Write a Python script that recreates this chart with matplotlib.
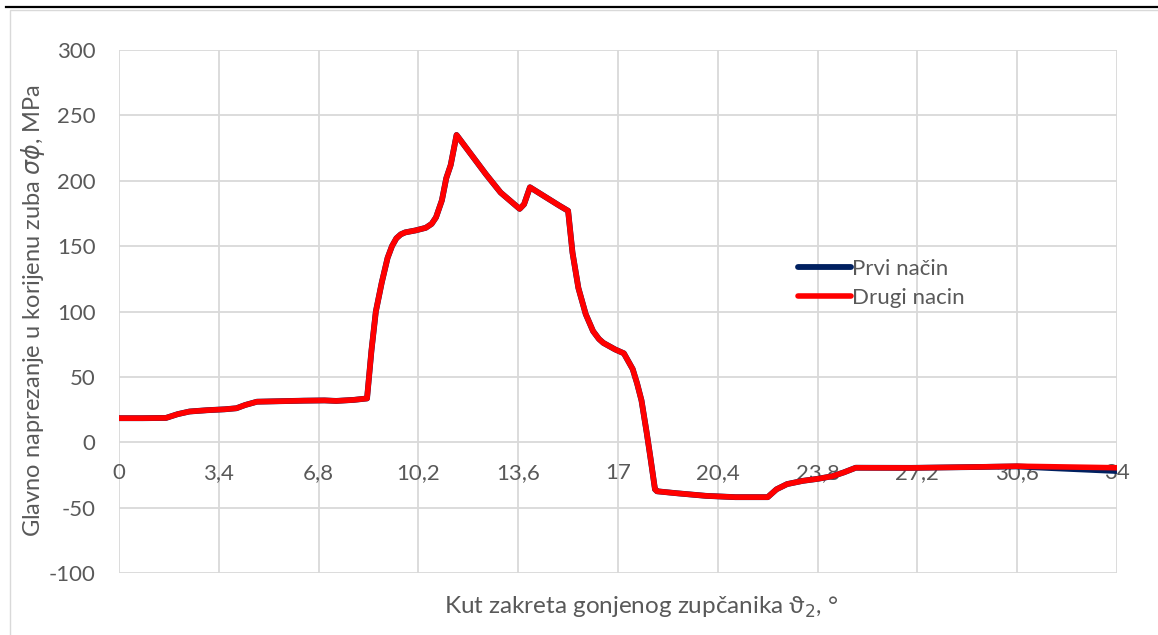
import matplotlib
matplotlib.use("Agg")
import matplotlib.pyplot as plt
from matplotlib.patches import Rectangle
from matplotlib.lines import Line2D

# ---- data ----
theta = [0, 0.8, 1.6, 2.0, 2.4, 3.0, 3.6, 4.0, 4.3, 4.7, 5.5, 6.3, 7.0, 7.4, 8.0, 8.45,
         8.6, 8.75, 8.95, 9.15, 9.3, 9.45, 9.6, 9.75, 10.1, 10.45, 10.65, 10.8, 11.0, 11.15, 11.3, 11.5,
         12.0, 12.5, 13.0, 13.65, 13.8, 14.0, 14.5, 15.0, 15.3, 15.45, 15.65, 15.9, 16.15,
         16.35, 16.5, 16.9, 17.2, 17.5, 17.65, 17.8, 17.98, 18.1, 18.26, 18.33, 19.0, 20.0, 21.0,
         22.1, 22.4, 22.76, 23.3, 23.8, 24.3, 24.7, 25.1, 27.0, 29.0, 30.6, 32.0, 34.0]

drugi = [18.4, 18.4, 18.6, 21.5, 23.5, 24.5, 25.2, 26.0, 28.5, 31.0, 31.4, 31.8, 32.0, 31.6, 32.4, 33.5,
         70, 100, 122, 141, 150, 156, 159, 160.5, 162, 164, 167, 172, 185, 202, 212, 235,
         220, 205, 191, 178.5, 182, 195, 188, 181, 177, 145, 118, 98, 85,
         79, 76, 71, 68, 56, 45, 32, 7, -11, -36, -37.5, -39, -41, -42,
         -42, -36, -32, -29.5, -28, -26, -23, -19.5, -19.6, -19.0, -18.3, -18.8, -19.5]

prvi = [18.4, 18.4, 18.6, 21.5, 23.5, 24.5, 25.2, 26.0, 28.5, 31.0, 31.4, 31.8, 32.0, 31.6, 32.4, 33.5,
        70, 100, 122, 141, 150, 156, 159, 160.5, 162, 164, 167, 172, 185, 202, 212, 235,
        220, 205, 191, 178.5, 182, 195, 188, 181, 177, 145, 118, 98, 85,
        79, 76, 71, 68, 56, 45, 32, 7, -11, -36, -37.5, -39, -41, -42,
        -42, -36, -32, -29.5, -28, -26, -23, -19.5, -19.6, -19.0, -18.5, -20.0, -22.0]

x_ticks = [0, 3.4, 6.8, 10.2, 13.6, 17, 20.4, 23.8, 27.2, 30.6, 34]
x_tick_labels = ["0", "3,4", "6,8", "10,2", "13,6", "17", "20,4", "23,8", "27,2", "30,6", "34"]
y_ticks = [-100, -50, 0, 50, 100, 150, 200, 250, 300]

series_names = ["Prvi način", "Drugi nacin"]
series_colors = ["#002060", "#FF0000"]

# ---- figure ----
W, H = 1158, 635
plt.rcParams['font.family'] = ['Lato', 'DejaVu Sans']
plt.rcParams['axes.unicode_minus'] = False
fig = plt.figure(figsize=(W / 100, H / 100), dpi=100)
txt = "#595959"
grid = "#D9D9D9"

# page line and chart border
fig.add_artist(Line2D([6 / W, 1], [1 - 7 / H, 1 - 7 / H], color="black", lw=1.6,
                      transform=fig.transFigure))
fig.add_artist(Rectangle((10 / W, -0.01), 1.2, 1 - 9.5 / H + 0.01, transform=fig.transFigure,
                         fill=False, edgecolor=grid, lw=1.0))

ax = fig.add_axes([119 / W, 1 - 573 / H, (1117 - 119) / W, (573 - 50) / H])
ax.set_xlim(0, 34)
ax.set_ylim(-100, 300)
ax.set_xticks(x_ticks)
ax.set_xticklabels(x_tick_labels)
ax.set_yticks(y_ticks)
ax.grid(True, color=grid, lw=1.3)
ax.set_axisbelow(True)
for s in ["top", "right", "left"]:
    ax.spines[s].set_visible(False)
ax.spines["bottom"].set_position(("data", 0))
ax.spines["bottom"].set_visible(False)
ax.tick_params(axis="both", length=0, labelsize=16, labelcolor=txt)
ax.tick_params(axis="x", pad=15)
ax.tick_params(axis="y", pad=17)

l1, = ax.plot(theta, prvi, color=series_colors[0], lw=4.2, solid_capstyle="round",
              solid_joinstyle="round", label=series_names[0])
l2, = ax.plot(theta, drugi, color=series_colors[1], lw=4.0, solid_capstyle="round",
              solid_joinstyle="round", label=series_names[1])

leg = ax.legend(handles=[l1, l2], loc="upper left", bbox_to_anchor=(670 / 998, 1 - 200 / 523),
                frameon=False, fontsize=16, handlelength=2.4, handletextpad=0.05,
                labelspacing=0.4, borderaxespad=0)
for t in leg.get_texts():
    t.set_color(txt)

fig.text((435 + 848) / 2 / W, 1 - 607 / H, "Kut zakreta gonjenog zupčanika ϑ$_2$, °",
         ha="center", va="center", fontsize=17.5, color=txt)
fig.text(33 / W, 1 - 311 / H, "Glavno naprezanje u korijenu zuba $\\sigma\\phi$, MPa",
         ha="center", va="center", rotation=90, fontsize=17, color=txt)

fig.savefig("out.png", dpi=100)
